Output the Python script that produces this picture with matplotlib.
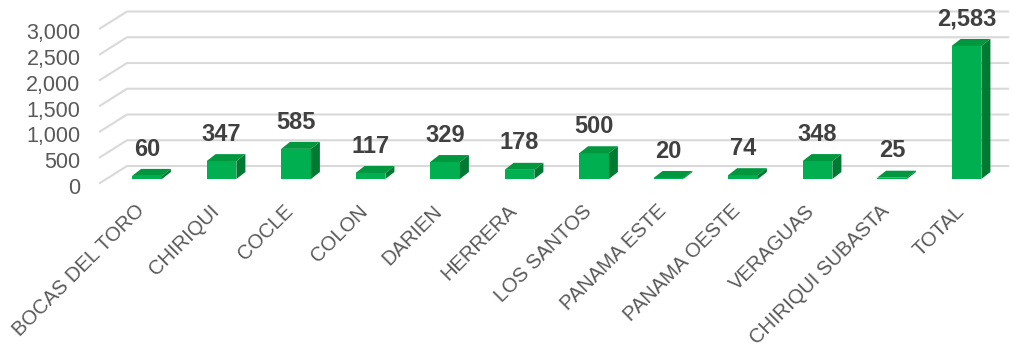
import matplotlib
matplotlib.use("Agg")
from matplotlib import pyplot as plt
from matplotlib.patches import Polygon
from matplotlib.transforms import ScaledTranslation

provincias = ["BOCAS DEL TORO", "CHIRIQUI", "COCLE", "COLON", "DARIEN", "HERRERA",
              "LOS SANTOS", "PANAMA ESTE", "PANAMA OESTE", "VERAGUAS",
              "CHIRIQUI SUBASTA", "TOTAL"]
valores = [60, 347, 585, 117, 329, 178, 500, 20, 74, 348, 25, 2583]
yticks = [0, 500, 1000, 1500, 2000, 2500, 3000]

front = "#00B050"
top_c = "#00973F"
side_c = "#007A33"
grid_c = "#D9D9D9"
fam = ["Liberation Sans", "DejaVu Sans"]

W, H = 1013, 347
fig = plt.figure(figsize=(W / 100, H / 100), dpi=100)
# pixel layout -> axes placement
L, R, B, T = 100, 1008, 183, 5
ax = fig.add_axes([L / W, (H - B) / H, (R - L) / W, (B - T) / H])
px_cat = 74.5
px_val = 0.0515
x0 = (L - 147) / px_cat
x1 = (R - 147) / px_cat
ax.set_xlim(x0, x1)
ax.set_ylim(0, (B - T) / px_val)
for s in ax.spines.values():
    s.set_visible(False)

# floor / wall depth (pseudo 3d)
fdx, fdy = 27 / px_cat, 17 / px_val
for v in yticks:
    ax.plot([x0, x0 + fdx, x1], [v, v + fdy, v + fdy], color=grid_c, lw=1.5,
            clip_on=False, zorder=1)

# bars
w = 0.40
bdx, bdy = 9 / px_cat, 7 / px_val
b0 = 4 / px_val
xs = list(range(len(valores)))
ax.bar(xs, valores, width=w, bottom=b0, color=front, zorder=3, clip_on=False)
for x, v in zip(xs, valores):
    xl, xr, yt = x - w / 2, x + w / 2, b0 + v
    ax.add_patch(Polygon([(xl, yt), (xr, yt), (xr + bdx, yt + bdy), (xl + bdx, yt + bdy)],
                         closed=True, facecolor=top_c, edgecolor="none", zorder=3, clip_on=False))
    ax.add_patch(Polygon([(xr, b0), (xr + bdx, b0 + bdy), (xr + bdx, yt + bdy), (xr, yt)],
                         closed=True, facecolor=side_c, edgecolor="none", zorder=3, clip_on=False))
    ax.annotate(f"{v:,}", (x, yt + bdy), xytext=(0, 6), textcoords="offset points",
                ha="center", va="bottom", fontsize=17, fontweight="bold", color="#404040",
                family=fam)

ax.set_yticks(yticks)
ax.set_yticklabels([f"{v:,}" for v in yticks], fontsize=15.5, color="#595959", family=fam)
ax.tick_params(axis="y", length=0, pad=14)
for lab in ax.get_yticklabels():
    lab.set_transform(lab.get_transform() + ScaledTranslation(0, -2 / 72, fig.dpi_scale_trans))

ax.set_xticks(xs)
ax.set_xticklabels(provincias, rotation=45, ha="right", va="center", rotation_mode="anchor",
                   fontsize=14.5, color="#595959", family=fam)
ax.tick_params(axis="x", length=0, pad=18)
for lab in ax.get_xticklabels():
    lab.set_transform(lab.get_transform() + ScaledTranslation(-4 / 72, 0, fig.dpi_scale_trans))

fig.savefig("out.png", dpi=100)
